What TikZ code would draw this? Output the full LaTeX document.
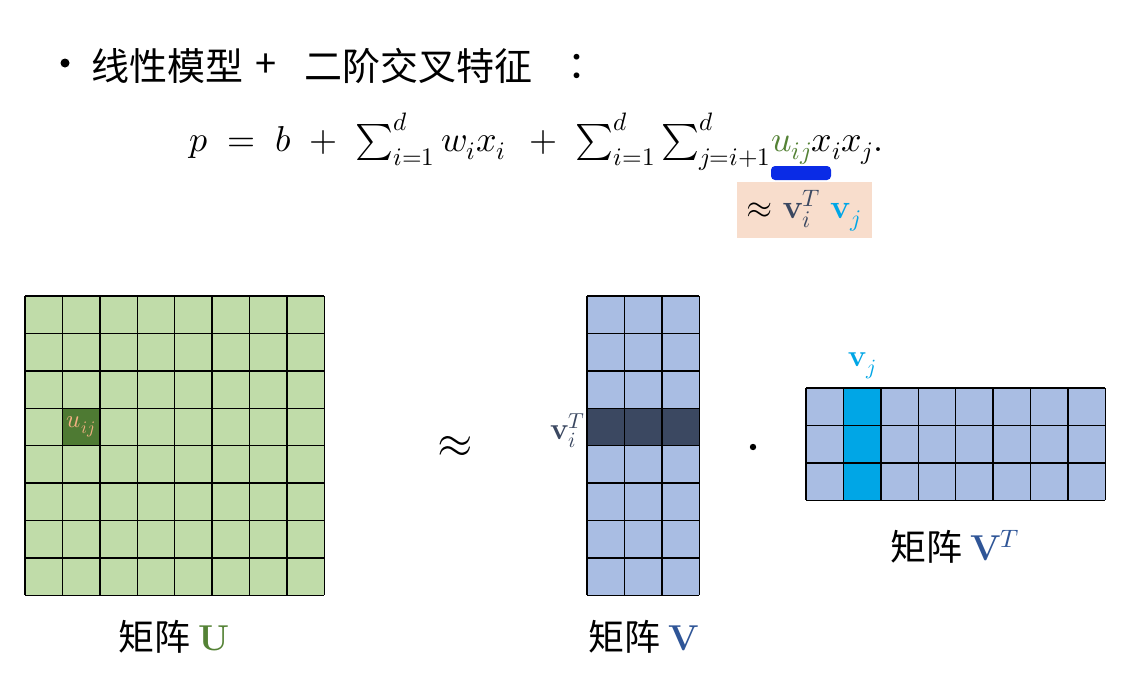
\documentclass[tikz,border=0pt]{standalone}
\usepackage{fontspec}
\usepackage{unicode-math}
\setmathfont{Latin Modern Math}
\newfontfamily\cjk{Noto Sans CJK SC}
\definecolor{ulight}{HTML}{C0DCA9}
\definecolor{udark}{HTML}{4E7A33}
\definecolor{upeach}{HTML}{F4B183}
\definecolor{vlight}{HTML}{A9BDE3}
\definecolor{vdark}{HTML}{3B4861}
\definecolor{vcyan}{HTML}{00A6E6}
\definecolor{vlabel}{HTML}{2F5597}
\definecolor{ugreen}{HTML}{548235}
\definecolor{barblue}{HTML}{0A2BE6}
\definecolor{peachbox}{HTML}{F8DDCC}
\tikzset{
  gridline/.style={draw=black, line width=1.4pt},
  txt/.style={inner sep=0pt, outer sep=0pt},
  ttl/.style={txt, font=\fontsize{38}{42}\selectfont\cjk},
  captxt/.style={txt, font=\fontsize{36}{40}\selectfont\cjk},
  eqtxt/.style={txt, font=\fontsize{36}{42}\selectfont},
}
\begin{document}
\begin{tikzpicture}[x=1pt,y=-1pt]
\useasboundingbox (0,0) rectangle (1141,680);
\fill[white] (0,0) rectangle (1141,680);
\def\c{37.4}
% title
\fill (65,63) circle (4.5);
\node[ttl, anchor=west] (t1) at (91,66) {线性模型};
\node[ttl] (t2) at (266,66) {+};
\node[ttl, anchor=west] (t3) at (304,66) {二阶交叉特征};
\node[ttl] (t4) at (586,66) {：};
% equation
\node[eqtxt, anchor=base west] (uij) at (771,151) {$\color{ugreen}u_{ij}$};
\node[eqtxt, anchor=base east] (eqA) at (uij.base west) {$p\;=\;b\;+\;\sum_{i=1}^{d} w_i x_i\;\,+\;\sum_{i=1}^{d}\sum_{j=i+1}^{d}$};
\node[eqtxt, anchor=base west] (eqB) at (uij.base east) {$x_i x_j.$};
\fill[barblue, rounded corners=4pt] (771,166) rectangle (831,180);
\fill[peachbox] (737,182) rectangle (872,238);
\node[txt] (approxv) at (804,211) {\fontsize{34}{38}\selectfont$\approx{\color{vdark}\mathbf{v}_{i}^{T}}\;{\color{vcyan}\mathbf{v}_j}$};
% matrix U
\fill[ulight] (25,296) rectangle ++(8*\c,8*\c);
\fill[udark] (25+\c,296+3*\c) rectangle ++(\c,\c);
\foreach \k in {0,...,8} {
  \draw[gridline] (25+\k*\c,296) -- (25+\k*\c,296+8*\c);
  \draw[gridline] (25,296+\k*\c) -- (25+8*\c,296+\k*\c);
}
\node[txt] (ulab) at (25+1.5*\c,296+3.5*\c) {\fontsize{25}{28}\selectfont$\color{upeach}u_{ij}$};
\node[captxt] (Ucap) at (174,637) {矩阵 {\color{ugreen}$\mathbf{U}$}};
% approx
\node[txt] (approx) at (455,447) {\fontsize{46}{50}\selectfont$\approx$};
% matrix V
\fill[vlight] (587,296) rectangle ++(3*\c,8*\c);
\fill[vdark] (587,296+3*\c) rectangle ++(3*\c,\c);
\foreach \k in {0,...,3} \draw[gridline] (587+\k*\c,296) -- (587+\k*\c,296+8*\c);
\foreach \k in {0,...,8} \draw[gridline] (587,296+\k*\c) -- (587+3*\c,296+\k*\c);
\node[txt, anchor=east] (vilab) at (585,431) {\fontsize{31}{34}\selectfont$\color{vdark}\mathbf{v}_i^T$};
\node[captxt] (Vcap) at (644,637) {矩阵 {\color{vlabel}$\mathbf{V}$}};
% dot
\fill (753,447) circle (3.2);
% matrix VT
\fill[vlight] (806,388) rectangle ++(8*\c,3*\c);
\fill[vcyan] (806+\c,388) rectangle ++(\c,3*\c);
\foreach \k in {0,...,8} \draw[gridline] (806+\k*\c,388) -- (806+\k*\c,388+3*\c);
\foreach \k in {0,...,3} \draw[gridline] (806,388+\k*\c) -- (806+8*\c,388+\k*\c);
\node[txt] (vjlab) at (862,366) {\fontsize{31}{34}\selectfont$\color{vcyan}\mathbf{v}_j$};
\node[captxt] (VTcap) at (955,547) {矩阵 {\color{vlabel}$\mathbf{V}^T$}};
\end{tikzpicture}
\end{document}
